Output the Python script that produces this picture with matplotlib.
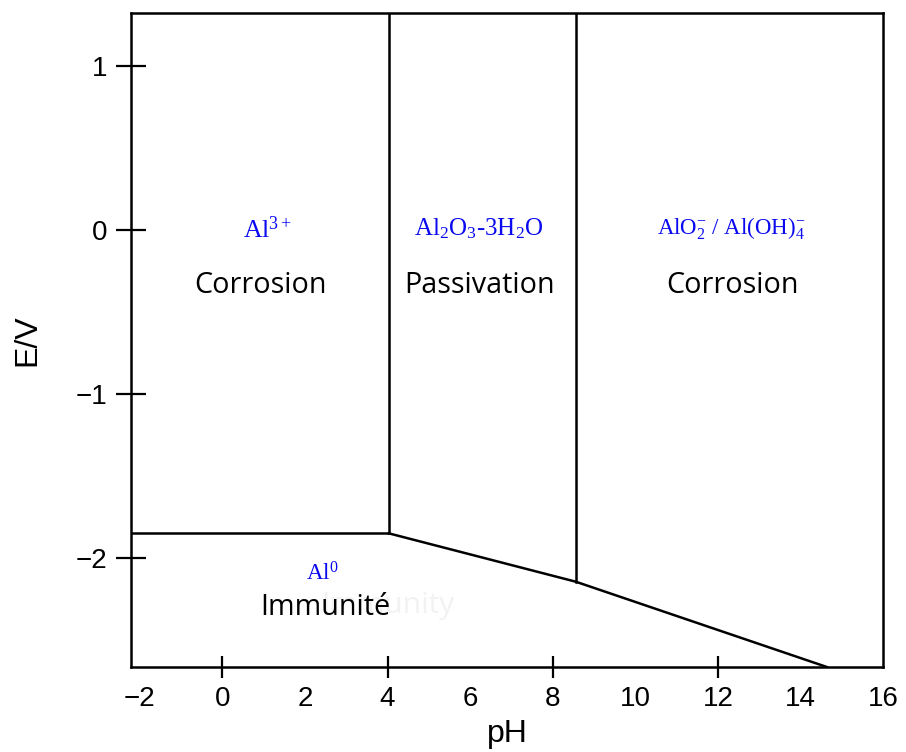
import matplotlib
matplotlib.use("Agg")
import matplotlib.pyplot as plt

# phase boundaries of the Al Pourbaix diagram (pH, E/V)
ph_acid = 4.03
ph_base = 8.56
e_immunity = -1.85
slope_ph = [4.03, 8.56, 14.64]
slope_e = [-1.85, -2.145, -2.665]

x_ticks = [-2, 0, 2, 4, 6, 8, 10, 12, 14, 16]
x_marked = [0, 4, 8, 12]
y_ticks = [-2, -1, 0, 1]

# species labels: text, pH, E, font size
species = [
    (r"Al$^{3+}$", 1.1, 0.0, 18.5),
    (r"Al$_2$O$_3$-3H$_2$O", 6.2, 0.01, 18),
    (r"AlO$_2^{-}$ / Al(OH)$_4^{-}$", 12.32, 0.01, 16.5),
    (r"Al$^{0}$", 2.42, -2.10, 16.5),
]
domains = [
    ("Corrosion", 0.93, -0.34),
    ("Passivation", 6.23, -0.34),
    ("Corrosion", 12.36, -0.34),
    ("Immunité", 2.48, -2.30),
]

xmin, xmax = -2.215, 16.0
ymin, ymax = -2.665, 1.323

plt.rcParams['mathtext.fontset'] = 'custom'
plt.rcParams['mathtext.rm'] = 'Liberation Serif'
plt.rcParams['mathtext.it'] = 'Liberation Serif:italic'

fig = plt.figure(figsize=(9.06, 7.52), dpi=100)
ax = fig.add_axes([131 / 906, 1 - 667 / 752, (883 - 131) / 906, (667 - 13) / 752])

lw = 1.8
ax.plot([xmin, ph_acid], [e_immunity, e_immunity], color="black", lw=lw)
ax.plot([ph_acid, ph_acid], [e_immunity, ymax], color="black", lw=lw)
ax.plot([ph_base, ph_base], [slope_e[1], ymax], color="black", lw=lw)
ax.plot(slope_ph, slope_e, color="black", lw=lw)

# faint leftover label from the original figure
ax.text(4.0, -2.29, "Immunity", color="#f2f2f2", fontsize=21.5, family="Open Sans",
        ha="center", va="center", zorder=0)

for txt, x, y, fs in species:
    ax.text(x, y, txt, color="#0a0af0", fontsize=fs, family="Liberation Serif",
            ha="center", va="center")
for txt, x, y in domains:
    ax.text(x, y, txt, color="black", fontsize=20.7, family="Open Sans",
            ha="center", va="center")

ax.set_xlim(xmin, xmax)
ax.set_ylim(ymin, ymax)

ax.set_xticks(x_ticks)
ax.set_xticklabels([f"{t}".replace("-", "\u2212") for t in x_ticks])
ax.set_yticks(y_ticks)
ax.set_yticklabels([f"{t}".replace("-", "\u2212") for t in y_ticks])
for t, tick in zip(x_ticks, ax.xaxis.get_major_ticks()):
    if t not in x_marked:
        tick.tick1line.set_visible(False)

ax.tick_params(axis="x", direction="inout", length=16, width=1.6, labelsize=20, pad=6)
ax.tick_params(axis="y", direction="inout", length=22, width=1.6, labelsize=20, pad=6)
for lab in ax.get_xticklabels() + ax.get_yticklabels():
    lab.set_family("Liberation Sans")

for s in ax.spines.values():
    s.set_linewidth(1.8)

ax.set_xlabel("pH", fontsize=23, family="Liberation Sans", labelpad=5)
ax.set_ylabel("E/V", fontsize=23, family="Liberation Sans", labelpad=24)

fig.savefig("out.png", dpi=100)
